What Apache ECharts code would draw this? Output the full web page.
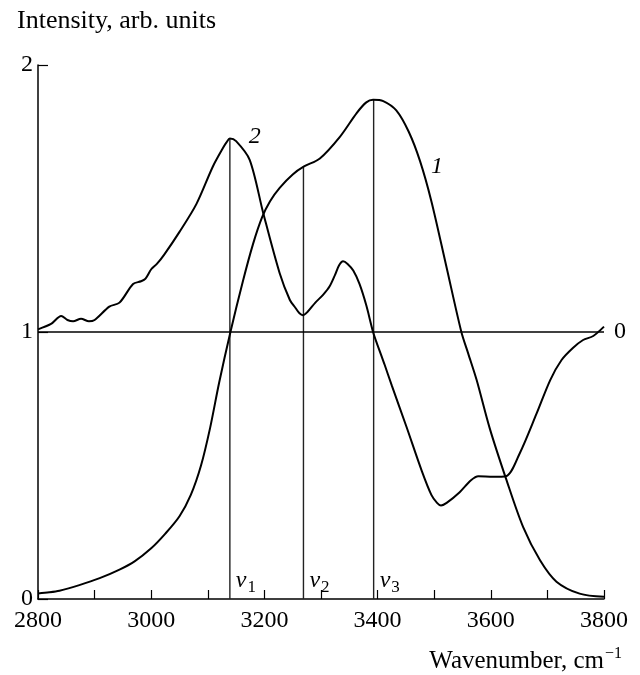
<!DOCTYPE html>
<html>
<head>
<meta charset="utf-8">
<script src="https://cdn.jsdelivr.net/npm/echarts@6/dist/echarts.min.js"></script>
<style>
  html, body { margin: 0; padding: 0; background: #fff; }
  #chart { width: 640px; height: 675px; }
</style>
</head>
<body>
<div id="chart"></div>
<script>
// curve 1 (wavenumber, intensity)
const curve1X = [2800, 2820, 2838, 2873, 2909, 2944, 2970, 3000, 3025, 3050, 3070, 3088, 3104, 3120, 3140, 3162, 3180, 3196, 3210, 3227, 3250, 3270, 3298, 3333, 3363, 3380, 3392, 3410, 3433, 3455, 3475, 3495, 3521, 3548, 3560, 3575, 3598, 3627, 3657, 3687, 3716, 3757, 3800]
const curve1Y = [0.021, 0.025, 0.031, 0.052, 0.078, 0.11, 0.14, 0.19, 0.245, 0.31, 0.39, 0.50, 0.64, 0.81, 1.0, 1.19, 1.33, 1.43, 1.49, 1.54, 1.59, 1.62, 1.65, 1.73, 1.82, 1.86, 1.87, 1.865, 1.83, 1.75, 1.64, 1.49, 1.25, 1.0, 0.92, 0.82, 0.64, 0.45, 0.27, 0.145, 0.065, 0.02, 0.008]

// curve 2
const curve2X = [2800, 2823, 2841, 2852, 2862, 2876, 2890, 2900, 2926, 2944, 2968, 2982, 2990, 3000, 3010, 3023, 3050, 3080, 3109, 3127, 3133, 3139, 3150, 3174, 3198, 3227, 3245, 3255, 3262, 3268, 3276, 3290, 3304, 3315, 3325, 3332, 3339, 3347, 3357, 3368, 3380, 3392, 3400, 3412, 3425, 3451, 3478, 3495, 3505, 3512, 3522, 3545, 3565, 3578, 3604, 3627, 3651, 3681, 3705, 3725, 3745, 3763, 3781, 3800]
const curve2Y = [1.01, 1.03, 1.06, 1.045, 1.04, 1.05, 1.04, 1.045, 1.095, 1.11, 1.18, 1.19, 1.20, 1.235, 1.255, 1.29, 1.375, 1.48, 1.62, 1.69, 1.71, 1.725, 1.715, 1.645, 1.445, 1.22, 1.12, 1.09, 1.07, 1.063, 1.075, 1.11, 1.14, 1.17, 1.215, 1.25, 1.265, 1.255, 1.23, 1.18, 1.10, 1.0, 0.95, 0.88, 0.80, 0.645, 0.48, 0.39, 0.36, 0.35, 0.36, 0.40, 0.445, 0.46, 0.458, 0.46, 0.545, 0.695, 0.82, 0.895, 0.94, 0.97, 0.985, 1.02]

// vertical markers v1, v2, v3
const markerNames = ['1', '2', '3']
const markerX = [3139, 3269, 3393]
const markerTop = [1.725, 1.62, 1.87]
const markerLabelY = 0.07

// curve labels
const curveNames = ['2', '1']
const curveLabelX = [3183, 3505]
const curveLabelY = [1.73, 1.62]

const baseLevel = 1
const xTicks = [2800, 3000, 3200, 3400, 3600, 3800]

const FONT = 'Liberation Serif'

const zip = (xs, ys) => xs.map((x, i) => [x, ys[i]])

const chart = echarts.init(document.getElementById('chart'))

const markerSeries = markerX.map((x, i) => ({
  type: 'line',
  data: [[x, 0], [x, markerTop[i]]],
  showSymbol: false,
  silent: true,
  lineStyle: { color: '#222', width: 1.4 },
  z: 1,
}))

// label-only scatter (no visible symbol)
const labelSeries = (name, data, label) => ({
  name,
  type: 'scatter',
  symbolSize: 0,
  silent: true,
  itemStyle: { color: '#000', opacity: 1 },
  data,
  label: Object.assign({ show: true, color: '#000', textBorderWidth: 0, opacity: 1 }, label),
  z: 5,
})

const option = {
  animation: false,
  grid: { left: 38, right: 36, top: 65, bottom: 76, containLabel: false },
  xAxis: {
    type: 'value',
    min: 2800,
    max: 3800,
    interval: 100,
    axisLine: { show: true, lineStyle: { color: '#000', width: 1.5 } },
    axisTick: { show: true, inside: true, length: 9, lineStyle: { color: '#000', width: 1.2 } },
    splitLine: { show: false },
    axisLabel: {
      color: '#000',
      fontFamily: FONT,
      fontSize: 24,
      margin: 10,
      formatter: v => (xTicks.includes(v) ? String(v) : ''),
    },
  },
  yAxis: {
    type: 'value',
    min: 0,
    max: 2,
    interval: 1,
    axisLine: { show: true, lineStyle: { color: '#000', width: 1.5 } },
    axisTick: { show: true, inside: true, length: 10, lineStyle: { color: '#000', width: 1.2 } },
    splitLine: { show: false },
    axisLabel: { color: '#000', fontFamily: FONT, fontSize: 24, margin: 5 },
  },
  graphic: [
    {
      type: 'text',
      left: 17,
      top: 8,
      style: { text: 'Intensity, arb. units', font: '26px "Liberation Serif"', fill: '#000' },
    },
    {
      type: 'text',
      right: 18,
      top: 646,
      style: {
        text: '{a|Wavenumber, cm}{s|−1}',
        fill: '#000',
        rich: {
          a: { fontFamily: FONT, fontSize: 25, fill: '#000', verticalAlign: 'bottom' },
          s: { fontFamily: FONT, fontSize: 16, fill: '#000', verticalAlign: 'top', padding: [0, 0, 12, 1] },
        },
      },
    },
  ],
  series: [
    ...markerSeries,
    {
      name: 'base',
      type: 'line',
      data: [[2800, baseLevel], [3800, baseLevel]],
      showSymbol: false,
      silent: true,
      lineStyle: { color: '#000', width: 1.3 },
      endLabel: { show: true, formatter: '0', fontFamily: FONT, fontSize: 24, color: '#000', distance: 10 },
      z: 1,
    },
    {
      name: 'curve1',
      type: 'line',
      data: zip(curve1X, curve1Y),
      smooth: 0.3,
      showSymbol: false,
      lineStyle: { color: '#000', width: 2 },
      z: 3,
    },
    {
      name: 'curve2',
      type: 'line',
      data: zip(curve2X, curve2Y),
      smooth: 0.3,
      showSymbol: false,
      lineStyle: { color: '#000', width: 2 },
      z: 3,
    },
    labelSeries('markerLabels',
      markerX.map((x, i) => ({ value: [x, markerLabelY], name: markerNames[i] })),
      {
        position: 'right',
        distance: 6,
        formatter: p => '{v|v}{s|' + p.name + '}',
        rich: {
          v: { fontFamily: FONT, fontStyle: 'italic', fontSize: 24, color: '#000' },
          s: { fontFamily: FONT, fontSize: 17, color: '#000', padding: [14, 0, 0, 1] },
        },
      }),
    labelSeries('curveLabels',
      curveLabelX.map((x, i) => ({ value: [x, curveLabelY[i]], name: curveNames[i] })),
      {
        position: 'inside',
        formatter: p => p.name,
        fontFamily: FONT,
        fontStyle: 'italic',
        fontSize: 24,
      }),
  ],
}

chart.setOption(option)
</script>
</body>
</html>
